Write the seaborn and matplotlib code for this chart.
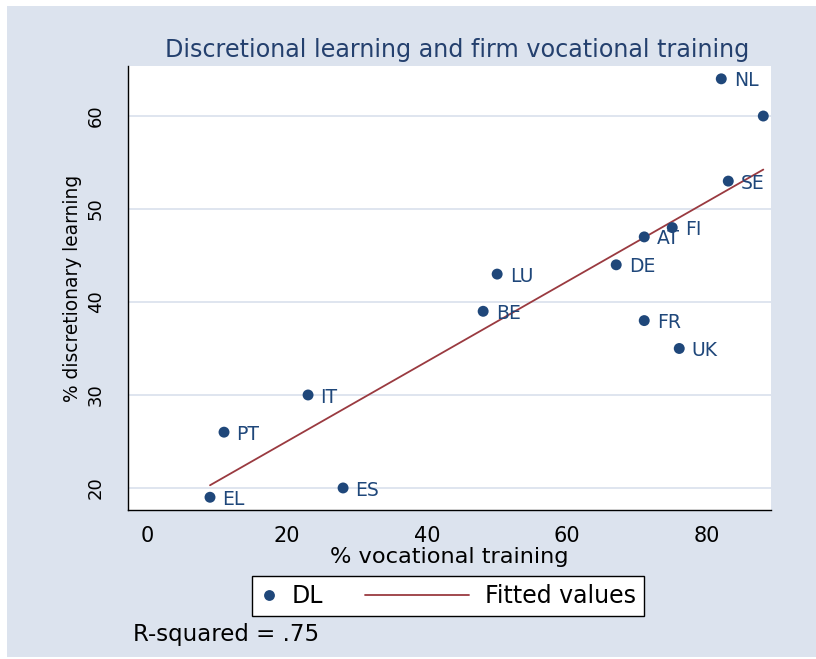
import numpy as np
import pandas as pd
import seaborn as sns
import matplotlib.pyplot as plt
from matplotlib.lines import Line2D
from matplotlib.patches import Rectangle
from matplotlib.legend_handler import HandlerBase

# Country data
countries = ['NL', 'DK', 'SE', 'FI', 'AT', 'DE', 'LU', 'BE', 'FR', 'UK', 'IT', 'PT', 'ES', 'EL']
vocational = [82, 88, 83, 75, 71, 67, 50, 48, 71, 76, 23, 11, 28, 9]
discretionary = [64, 60, 53, 48, 47, 44, 43, 39, 38, 35, 30, 26, 20, 19]

x_ticks = [0, 20, 40, 60, 80]
y_ticks = [20, 30, 40, 50, 60]

df = pd.DataFrame({'country': countries, 'voc': vocational, 'dl': discretionary})

navy = '#1f477a'
maroon = '#9a3a40'
bg = '#dce3ee'

sns.set_style('white')
plt.rcParams['font.family'] = ['DejaVu Sans']
plt.rcParams['text.color'] = 'black'

fig = plt.figure(figsize=(8.16, 6.59), dpi=100)
fig.patch.set_facecolor('white')
# light blue graph region
fig.patches.append(Rectangle((7/816, 2/659), 809/816, 651/659, transform=fig.transFigure,
                             facecolor=bg, edgecolor='none', zorder=-10))

ax = fig.add_axes([128/816, 149/659, 643/816, 444/659])
ax.set_facecolor('white')

sns.scatterplot(data=df, x='voc', y='dl', color=navy, s=62, edgecolor='none',
                legend=False, ax=ax, zorder=3)
sns.regplot(data=df, x='voc', y='dl', scatter=False, ci=None, truncate=True,
            color=maroon, line_kws=dict(lw=1.3, zorder=2), ax=ax)

# marker labels at 3 o'clock
for c, xv, yv in zip(countries, vocational, discretionary):
    ax.annotate(c, (xv, yv), xytext=(9, -1.5), textcoords='offset points',
                va='center', ha='left', fontsize=13.5, color=navy,
                clip_on=True, annotation_clip=False)

ax.set_xlim(-2.71, 89.1)
ax.set_ylim(17.63, 65.38)
ax.set_xticks(x_ticks)
ax.set_yticks(y_ticks)
ax.yaxis.grid(True, color='#dfe5ef', lw=1.4)
ax.set_axisbelow(True)

for s in ['top', 'right']:
    ax.spines[s].set_visible(False)
for s in ['left', 'bottom']:
    ax.spines[s].set_color('black')
    ax.spines[s].set_linewidth(1.0)

ax.tick_params(axis='x', direction='out', length=5.8, width=1, pad=6, labelsize=15, colors='black')
ax.tick_params(axis='y', direction='out', length=8, width=1, pad=8.6, labelsize=13, colors='black')
plt.setp(ax.get_yticklabels(), rotation=90, va='center', ha='right')

ax.set_xlabel('% vocational training', fontsize=16.2, color='black', labelpad=0.5)
ax.set_ylabel('% discretionary learning', fontsize=13.4, color='black')
ax.yaxis.set_label_coords(-0.0715, 0.5)

fig.text(457/816, 1 - 50/659, 'Discretional learning and firm vocational training',
         ha='center', va='center', fontsize=17.2, color='#24406e')


# line key drawn wider than the marker key, as in the original legend
class WideLineHandler(HandlerBase):
    def create_artists(self, legend, orig_handle, xdescent, ydescent, width, height, fontsize, trans):
        y = height / 2 - ydescent
        line = Line2D([-xdescent - 63.6, width - xdescent - 1.2], [y, y],
                      color=orig_handle.get_color(), lw=orig_handle.get_linewidth())
        line.set_transform(trans)
        return [line]


dl_handle = Line2D([], [], marker='o', ls='', color=navy, markersize=7.8, markeredgewidth=0)
fit_handle = Line2D([], [], color=maroon, lw=1.3)
leg = fig.legend([dl_handle, fit_handle], ['DL', 'Fitted values'], ncol=2,
                 loc='center left', bbox_to_anchor=(252/816, 1 - 596/659),
                 fontsize=17, frameon=True, fancybox=False, shadow=False,
                 handlelength=0.73, handletextpad=0.61, columnspacing=5.5,
                 borderpad=0.35, borderaxespad=0,
                 handler_map={fit_handle: WideLineHandler()})
leg.get_frame().set_edgecolor('black')
leg.get_frame().set_linewidth(1.0)
leg.get_frame().set_facecolor('white')
leg.get_frame().set_alpha(1)
for t in leg.get_texts():
    t.set_color('black')

fig.text(133/816, 1 - 634/659, 'R-squared = .75', ha='left', va='center',
         fontsize=16.5, color='black')

plt.savefig('out.png', dpi=100)
